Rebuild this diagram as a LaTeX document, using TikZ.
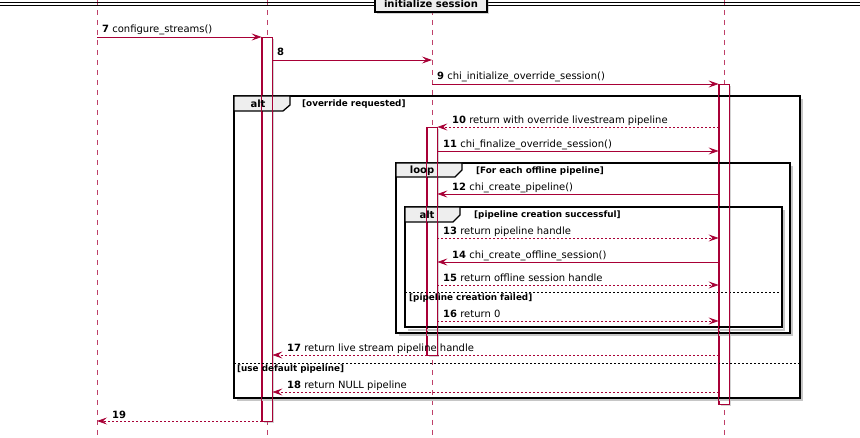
\documentclass[tikz,border=0pt]{standalone}
\usepackage{fontspec}
\setmainfont{DejaVu Sans}
\usetikzlibrary{arrows.meta, positioning, shadows}
\definecolor{lifecol}{HTML}{A80036}
\definecolor{tabcol}{HTML}{EEEEEE}
\tikzset{
  life/.style={draw=lifecol!75, line width=0.7pt, dash pattern=on 5pt off 5pt},
  actbar/.style={rectangle, draw=lifecol, fill=white, minimum width=10pt, inner sep=0pt, line width=0.8pt, anchor=north,
    drop shadow={shadow xshift=2pt, shadow yshift=-2pt, opacity=0.35}},
  baredge/.style={draw=lifecol, line width=0.8pt},
  call/.style={draw=lifecol, line width=0.7pt, -{Stealth[length=10pt, width=7pt, inset=4pt]}},
  reply/.style={call, dash pattern=on 2pt off 2pt},
  lbl/.style={anchor=base west, inner sep=0pt, font=\fontsize{10}{12}\selectfont},
  frame/.style={draw=black, line width=1.5pt},
  fshadow/.style={draw=gray!45, line width=2.5pt},
  tab/.style={draw=black, line width=1.3pt, fill=tabcol},
  tabtxt/.style={inner sep=0pt, font=\fontsize{10}{12}\selectfont\bfseries},
  guard/.style={anchor=base west, inner sep=0pt, font=\fontsize{8.8}{10}\selectfont\bfseries},
  sep/.style={draw=black, line width=0.5pt, dash pattern=on 2pt off 2pt},
  divbox/.style={rectangle, draw=black, line width=1.2pt, fill=tabcol, minimum width=112pt, minimum height=16pt, inner sep=0pt,
    font=\fontsize{10}{12}\selectfont\bfseries, drop shadow={shadow xshift=2pt, shadow yshift=-2pt, opacity=0.35}},
}

\begin{document}
\begin{tikzpicture}[x=1pt, y=-1pt]
  \useasboundingbox (0,0) rectangle (860,438);
  % lifelines
  \coordinate (L1) at (97,0);
  \coordinate (L2) at (267,0);
  \coordinate (L3) at (432,0);
  \coordinate (L4) at (724,0);
  \coordinate (bot) at (0,438);
  \foreach \l in {L1,L2,L3,L4}
    \draw[life] (\l) -- (\l |- bot);

  % divider
  \draw[line width=1pt] (0,3) -- (860,3);
  \draw[line width=1pt] (0,6) -- (860,6);
  \node[divbox] (div) at (431,4) {initialize session};

  % activations
  \node[actbar, minimum height=384pt] (A2) at (267,37) {};
  \node[actbar, minimum height=320pt] (A4) at (724,84) {};
  \node[actbar, minimum height=228pt] (A3) at (432,127) {};

  % outer alt
  \draw[fshadow] (237,400) -- (802,400) -- (802,99);
  \draw[frame] (234,96) rectangle (800,398);
  \draw[tab] (234,96) -- (290,96) -- (290,105) -- (283,111) -- (234,111) -- cycle;
  \draw[sep] (234,363) -- (800,363);

  % loop
  \draw[fshadow] (399,335) -- (792,335) -- (792,166);
  \draw[frame] (396,163) rectangle (790,333);
  \draw[tab] (396,163) -- (462,163) -- (462,170) -- (455,177) -- (396,177) -- cycle;

  % inner alt
  \draw[fshadow] (408,330) -- (784,330) -- (784,210);
  \draw[frame] (405,207) rectangle (782,327);
  \draw[tab] (405,207) -- (460,207) -- (460,215) -- (453,222) -- (405,222) -- cycle;
  \draw[sep] (405,292) -- (782,292);

  % bar outlines over the frames
  \foreach \a in {A2,A3,A4}
    \draw[baredge] (\a.south west) rectangle (\a.north east);

  % frame texts
  \node[tabtxt] (altA) at (258,104) {alt};
  \node[guard] (gA) at (302,107) {[override requested]};
  \node[guard] (gA2) at (237,372) {[use default pipeline]};
  \node[tabtxt] (loopB) at (422,171) {loop};
  \node[guard] (gB) at (476,174) {[For each offline pipeline]};
  \node[tabtxt] (altC) at (427,215) {alt};
  \node[guard] (gC) at (474,218) {[pipeline creation successful]};
  \node[guard] (gC2) at (409,301) {[pipeline creation failed]};

  % message rows
  \coordinate (r7) at (0,37);
  \coordinate (r8) at (0,60);
  \coordinate (r9) at (0,84);
  \coordinate (r10) at (0,127);
  \coordinate (r11) at (0,151);
  \coordinate (r12) at (0,194);
  \coordinate (r13) at (0,238);
  \coordinate (r14) at (0,262);
  \coordinate (r15) at (0,285);
  \coordinate (r16) at (0,321);
  \coordinate (r17) at (0,355);
  \coordinate (r18) at (0,392);
  \coordinate (r19) at (0,421);

  \draw[call] (L1 |- r7) -- (A2.west |- r7);
  \draw[call] (A2.east |- r8) -- (L3 |- r8);
  \draw[call] (L3 |- r9) -- (A4.west |- r9);
  \draw[reply] (A4.west |- r10) -- (A3.east |- r10);
  \draw[call] (A3.east |- r11) -- (A4.west |- r11);
  \draw[call] (A4.west |- r12) -- (A3.east |- r12);
  \draw[reply] (A3.east |- r13) -- (A4.west |- r13);
  \draw[call] (A4.west |- r14) -- (A3.east |- r14);
  \draw[reply] (A3.east |- r15) -- (A4.west |- r15);
  \draw[reply] (A3.east |- r16) -- (A4.west |- r16);
  \draw[reply] (A4.west |- r17) -- (A2.east |- r17);
  \draw[reply] (A4.west |- r18) -- (A2.east |- r18);
  \draw[reply] (A2.west |- r19) -- (L1 |- r19);

  % message labels
  \node[lbl] (t7) at (102,33) {\textbf{7} configure\_streams()};
  \node[lbl] (t8) at (277,56) {\textbf{8}};
  \node[lbl] (t9) at (437,80) {\textbf{9} chi\_initialize\_override\_session()};
  \node[lbl] (t10) at (452,124) {\textbf{10} return with override livestream pipeline};
  \node[lbl] (t11) at (443,148) {\textbf{11} chi\_finalize\_override\_session()};
  \node[lbl] (t12) at (452,191) {\textbf{12} chi\_create\_pipeline()};
  \node[lbl] (t13) at (443,235) {\textbf{13} return pipeline handle};
  \node[lbl] (t14) at (452,259) {\textbf{14} chi\_create\_offline\_session()};
  \node[lbl] (t15) at (443,282) {\textbf{15} return offline session handle};
  \node[lbl] (t16) at (443,318) {\textbf{16} return 0};
  \node[lbl] (t17) at (287,352) {\textbf{17} return live stream pipeline handle};
  \node[lbl] (t18) at (287,389) {\textbf{18} return NULL pipeline};
  \node[lbl] (t19) at (112,418) {\textbf{19}};
\end{tikzpicture}
\end{document}
